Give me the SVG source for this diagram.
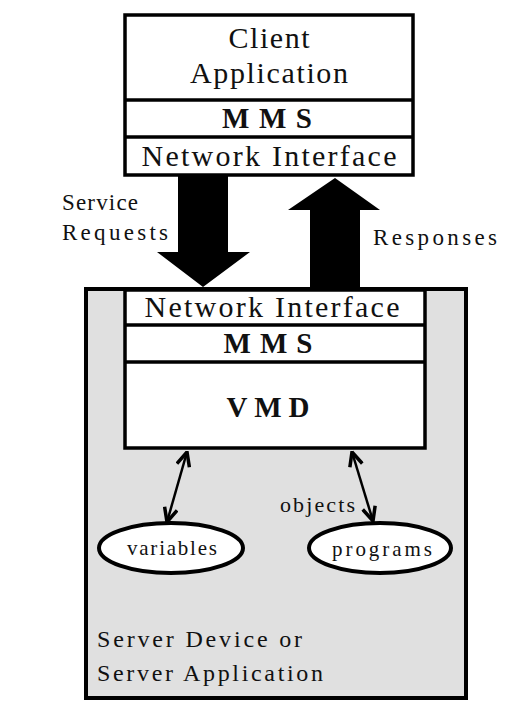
<svg xmlns="http://www.w3.org/2000/svg" width="512" height="719" viewBox="0 0 512 719">
<style>
.box{fill:#fff;stroke:#000;stroke-width:3.5}
.div{stroke:#000;stroke-width:3.5;fill:none}
.t{font-family:"Liberation Serif","Times New Roman",serif;fill:#111;text-anchor:middle}
.l{font-family:"Liberation Serif","Times New Roman",serif;fill:#111}
.b{font-weight:bold}
.ell{fill:#fff;stroke:#000;stroke-width:4}
.c{stroke:#000;stroke-width:2.5;fill:none;marker-start:url(#ah);marker-end:url(#ah)}
</style>
<defs>
<marker id="ah" viewBox="0 0 16 16" refX="15" refY="8" markerWidth="16" markerHeight="16" markerUnits="userSpaceOnUse" orient="auto-start-reverse">
<path d="M1,1.5 L15,8 L1,14.5" fill="none" stroke="#000" stroke-width="3.5"/>
</marker>
</defs>
<rect width="512" height="719" fill="#fff"/>
<g id="server">
<rect x="86" y="289" width="380" height="409" fill="#e0e0e0" stroke="#000" stroke-width="4"/>
<text class="l" x="97" y="647" font-size="24" textLength="205" lengthAdjust="spacing">Server Device or</text>
<text class="l" x="97" y="681" font-size="24" textLength="226" lengthAdjust="spacing">Server Application</text>
</g>
<g id="client">
<rect class="box" x="125" y="15" width="288" height="160"/>
<line class="div" x1="125" y1="100" x2="413" y2="100"/>
<line class="div" x1="125" y1="137" x2="413" y2="137"/>
<text class="t" x="269" y="48" font-size="30" textLength="81" lengthAdjust="spacing">Client</text>
<text class="t" x="269" y="83" font-size="30" textLength="158" lengthAdjust="spacing">Application</text>
<text class="t b" x="267" y="128" font-size="29" textLength="90" lengthAdjust="spacing">MMS</text>
<text class="t" x="269" y="166" font-size="30" textLength="255" lengthAdjust="spacing">Network Interface</text>
</g>
<g id="stack">
<rect class="box" x="125" y="290" width="300" height="158"/>
<line class="div" x1="125" y1="325" x2="425" y2="325"/>
<line class="div" x1="125" y1="362" x2="425" y2="362"/>
<text class="t" x="272" y="317" font-size="30" textLength="255" lengthAdjust="spacing">Network Interface</text>
<text class="t b" x="268" y="353" font-size="29" textLength="89" lengthAdjust="spacing">MMS</text>
<text class="t b" x="268" y="417" font-size="29" textLength="83" lengthAdjust="spacing">VMD</text>
</g>
<g id="variables">
<ellipse class="ell" cx="171" cy="548" rx="72" ry="25"/>
<text class="t" x="172" y="555" font-size="21" textLength="90" lengthAdjust="spacing">variables</text>
</g>
<g id="programs">
<ellipse class="ell" cx="380" cy="548" rx="71" ry="25"/>
<text class="t" x="382" y="556" font-size="21" textLength="100" lengthAdjust="spacing">programs</text>
</g>
<g id="connectors">
<polygon points="178,176 228,176 228,252 250,252 203,287 157,252 178,252" fill="#000"/>
<polygon points="310,289 310,210 288,210 335,178 380,210 360,210 360,289" fill="#000"/>
<text class="l" x="62" y="210" font-size="23" textLength="76" lengthAdjust="spacing">Service</text>
<text class="l" x="62" y="240" font-size="23" textLength="106" lengthAdjust="spacing">Requests</text>
<text class="l" x="373" y="245" font-size="23" textLength="124" lengthAdjust="spacing">Responses</text>
<line class="c" x1="187" y1="452" x2="167" y2="522"/>
<line class="c" x1="352" y1="452" x2="373" y2="521"/>
<text class="l" x="280" y="512" font-size="22" textLength="75" lengthAdjust="spacing">objects</text>
</g>
</svg>
